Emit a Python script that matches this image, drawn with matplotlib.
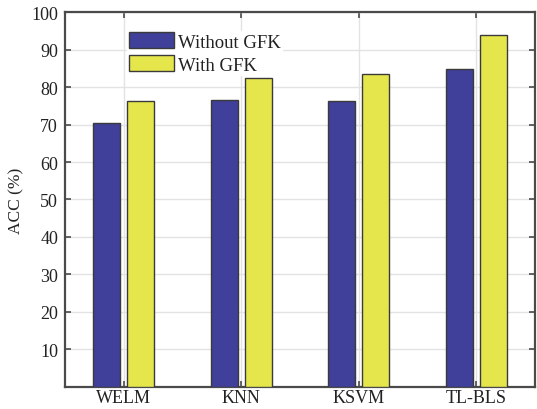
import matplotlib
matplotlib.use("Agg")
import matplotlib.pyplot as plt
import numpy as np

categories = ["WELM", "KNN", "KSVM", "TL-BLS"]
without_gfk = [70.4, 76.6, 76.3, 84.9]
with_gfk = [76.3, 82.4, 83.5, 93.8]
series_labels = ["Without GFK", "With GFK"]
yticks = [10, 20, 30, 40, 50, 60, 70, 80, 90, 100]

plt.rcParams["font.family"] = ["Liberation Serif", "DejaVu Serif"]

fig = plt.figure(figsize=(5.37, 4.10), dpi=100)
ax = fig.add_axes([0.121, 0.054, 0.875, 0.914])

x = np.arange(1, len(categories) + 1)
w = 0.23
off = 0.145
edge = "#3a3a3a"
ax.bar(x - off, without_gfk, w, color="#40409a", edgecolor=edge, linewidth=1.0,
       label=series_labels[0], zorder=3)
ax.bar(x + off, with_gfk, w, color="#e5e64c", edgecolor=edge, linewidth=1.0,
       label=series_labels[1], zorder=3)

ax.set_xlim(0.5, 4.5)
ax.set_ylim(0, 100)
ax.set_xticks(x)
ax.set_xticklabels(categories)
ax.set_yticks(yticks)
ax.grid(True, color="#e3e3e3", linewidth=1.0, zorder=0)
ax.set_axisbelow(True)

spine_c = "#4a4a4a"
for s in ax.spines.values():
    s.set_color(spine_c)
    s.set_linewidth(1.6)
ax.tick_params(axis="both", direction="in", length=4, width=1.2, color=spine_c,
               top=True, right=True, labelsize=13, labelcolor="#222222")
ax.tick_params(axis="y", pad=5)
ax.tick_params(axis="x", pad=1.5)

ax.set_ylabel("ACC (%)", fontsize=12.5, color="#222222", labelpad=5)

leg = ax.legend(loc="upper left", bbox_to_anchor=(0.125, 0.96), frameon=True,
                fontsize=13.5, handlelength=2.4, handleheight=0.9,
                handletextpad=0.2, labelspacing=0.25, borderaxespad=0.2,
                borderpad=0.08)
leg.get_frame().set_edgecolor("white")
leg.get_frame().set_facecolor("white")
leg.get_frame().set_alpha(1.0)
leg.set_zorder(5)
for t in leg.get_texts():
    t.set_color("#222222")

fig.savefig("out.png", dpi=100)
